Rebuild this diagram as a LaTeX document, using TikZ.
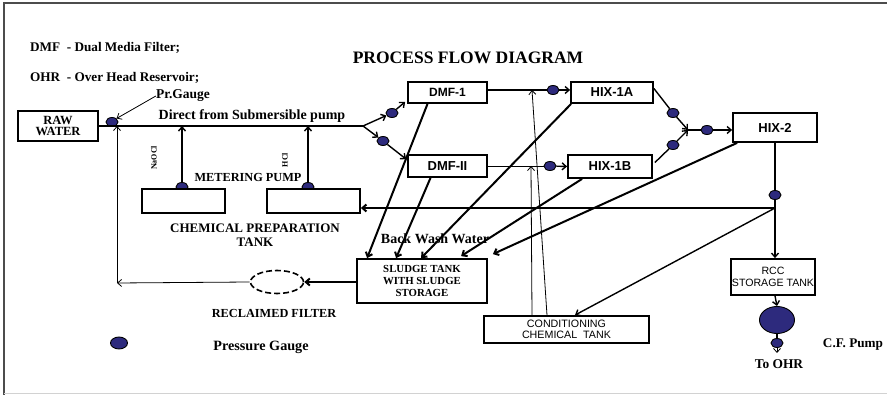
\documentclass[tikz,border=0pt]{standalone}
\usepackage{fontspec}
\setmainfont{Liberation Serif}
\setsansfont{Liberation Sans}
\usetikzlibrary{arrows.meta,shapes.geometric,calc}
\definecolor{gaugecol}{RGB}{45,42,125}
\begin{document}
\begin{tikzpicture}[x=1pt,y=-1pt,
  >={Straight Barb[length=4pt,width=7pt]},
  box/.style={draw,line width=1.8pt,fill=white,inner sep=0pt,align=center,font=\bfseries\fontsize{10.8}{11.5}\selectfont},
  sbox/.style={box,font=\sffamily\bfseries\fontsize{13}{14}\selectfont},
  gauge/.style={ellipse,draw,line width=0.9pt,fill=gaugecol,minimum width=12pt,minimum height=9pt,inner sep=0pt},
  lbl/.style={inner sep=0pt,font=\bfseries\fontsize{13}{14}\selectfont},
  heavy/.style={line width=2pt},
  medium/.style={line width=1.4pt},
  light/.style={line width=0.8pt}]
\useasboundingbox (0,0) rectangle (887,395);
% frame
\draw[gray!60!black,line width=1.5pt] (4,395) -- (4,3) -- (887,3);
\draw[gray!35,line width=0.8pt] (4,393) -- (887,393);
% legend and title
\node[lbl,anchor=west,font=\bfseries\fontsize{13.2}{14}\selectfont] (leg1) at (30,48) {DMF\ \ - Dual Media Filter;};
\node[lbl,anchor=west,font=\bfseries\fontsize{13.2}{14}\selectfont] (leg2) at (30,78) {OHR\ \ - Over Head Reservoir;};
\node[lbl,font=\bfseries\fontsize{17.5}{18}\selectfont] (title) at (468,58) {PROCESS FLOW DIAGRAM};
% gauges drawn first (boxes cover their lower halves)
\node[gauge] (g0) at (112,122) {};
\node[gauge] (gm1) at (182,187) {};
\node[gauge] (gm2) at (308,187) {};
\node[gauge] (gd1) at (392,113) {};
\node[gauge] (gd2) at (383,141) {};
\node[gauge] (g1a) at (553,90) {};
\node[gauge] (g1b) at (550,166) {};
\node[gauge] (ga) at (673,113) {};
\node[gauge] (gb) at (673,145) {};
\node[gauge] (gc) at (707,130) {};
\node[gauge] (gh2) at (775,195) {};
\node[gauge,minimum width=35pt,minimum height=27pt] (pump) at (777,320) {};
\node[gauge] (gp) at (777,343) {};
\node[gauge,minimum width=17pt,minimum height=12pt] (legg) at (119,343) {};
% boxes
\node[box,minimum width=80pt,minimum height=30pt,font=\bfseries\fontsize{12.5}{11}\selectfont] (raw) at (58,126) {RAW\\WATER};
\node[sbox,minimum width=79pt,minimum height=21pt,font=\sffamily\bfseries\fontsize{12}{13}\selectfont] (dmf1) at (447.5,92.5) {DMF-1};
\node[sbox,minimum width=79pt,minimum height=22pt] (dmf2) at (447.5,166) {DMF-II};
\node[sbox,minimum width=82pt,minimum height=21pt] (hix1a) at (612,92.5) {HIX-1A};
\node[sbox,minimum width=84pt,minimum height=23pt] (hix1b) at (610,166.5) {HIX-1B};
\node[sbox,minimum width=84pt,minimum height=29pt] (hix2) at (775,127.5) {HIX-2};
\node[box,minimum width=83pt,minimum height=24pt] (cp1) at (183.5,201) {};
\node[box,minimum width=93pt,minimum height=24pt] (cp2) at (313.5,201) {};
\node[box,minimum width=130pt,minimum height=44pt,font=\bfseries\fontsize{10.8}{12}\selectfont] (sludge) at (422,281) {SLUDGE TANK\\WITH SLUDGE\\STORAGE};
\node[box,minimum width=165pt,minimum height=27pt,font=\sffamily\fontsize{10.7}{11}\selectfont] (cond) at (566.5,329.5) {CONDITIONING\\CHEMICAL\ \ TANK};
\node[box,minimum width=84pt,minimum height=36pt,font=\sffamily\fontsize{10.6}{12}\selectfont] (rcc) at (773,277) {RCC\\STORAGE TANK};
\node[ellipse,draw,dash pattern=on 6pt off 3pt,line width=1.6pt,minimum width=53pt,minimum height=23pt,inner sep=0pt] (recl) at (277,282) {};
% labels
\node[lbl,font=\bfseries\fontsize{13.5}{14}\selectfont] (prg) at (183,96) {Pr.Gauge};
\node[lbl,font=\bfseries\fontsize{14}{15}\selectfont] (direct) at (252,116) {Direct from Submersible pump};
\node[lbl,font=\bfseries\fontsize{12.3}{13}\selectfont] (meter) at (248,177) {METERING PUMP};
\node[lbl,align=center,font=\bfseries\fontsize{13}{14.5}\selectfont] (cptext) at (255,235) {CHEMICAL PREPARATION\\TANK};
\node[lbl,font=\bfseries\fontsize{8}{9}\selectfont] (naocl) at (154,158) {\rotatebox{90}{NaOCl}};
\node[lbl,font=\bfseries\fontsize{8}{9}\selectfont] (hcl) at (285,160) {\rotatebox{90}{HCl}};
\node[lbl,font=\bfseries\fontsize{14}{15}\selectfont] (bww) at (435,239) {Back Wash Water};
\node[lbl,font=\bfseries\fontsize{12.3}{13}\selectfont] (rtext) at (274,313) {RECLAIMED FILTER};
\node[lbl,font=\bfseries\fontsize{14.2}{15}\selectfont] (pgtext) at (261,347) {Pressure Gauge};
\node[lbl,font=\bfseries\fontsize{13.2}{14}\selectfont] (cfp) at (853,345) {C.F. Pump};
\node[lbl,font=\bfseries\fontsize{13.4}{14}\selectfont] (ohr) at (779,364) {To OHR};
% junction coordinates
\coordinate (split) at (363,126);
\coordinate (m1) at (182,126);
\coordinate (m2) at (308,126);
\coordinate (lc) at (117,283);
\coordinate (lt) at (117,126);
\coordinate (j) at (775,208);
\coordinate (jc) at (688,130);
\coordinate (c1) at (531,166);
\coordinate (c2) at (532,90);
\coordinate (ohrend) at (777,353);
% main raw water line
\draw[heavy] (raw.east) -- (split);
\draw[->,light] (prg.west) -- (g0.north east);
\draw[->,medium] (split) -- (gd1);
\draw[->,medium] (gd1) -- ($(dmf1.south west)+(-2,-2)$);
\draw[->,medium] (split) -- (gd2);
\draw[->,medium] (gd2) -- ($(dmf2.north west)+(-1,5)$);
% metering pumps
\draw[->,medium] (gm1) -- (m1);
\draw[->,medium] (gm2) -- (m2);
% reclaimed loop
\draw[->,heavy] (sludge.west |- recl) -- (recl.east);
\draw[->,light] (recl.west) -- (lc);
\draw[->,light] (lc) -- (lt);
% DMF to HIX
\draw[medium] (dmf1.east |- g1a) -- (g1a);
\draw[->,medium] (g1a) -- (hix1a.west |- g1a);
\draw[light] (dmf2.east) -- (g1b);
\draw[->,medium] (g1b) -- (hix1b.west);
\draw[medium] ($(hix1a.east)+(0,-4)$) -- (ga);
\draw[->,medium] (ga) -- (jc);
\draw[medium] ($(hix1b.east)+(2,-4)$) -- (gb);
\draw[->,medium] (gb) -- (jc);
\draw[medium] (jc) -- (gc);
\draw[->,medium] (gc) -- (hix2.west |- gc);
% HIX-2 down
\draw[heavy] (hix2.south) -- (gh2);
\draw[heavy] (gh2) -- (j);
\draw[->,medium] (j) -- (rcc.north -| j);
\draw[->,heavy] (j) -- (cp2.east |- j);
\draw[->,medium] (j) -- ($(cond.north)+(8.5,0)$);
\draw[->,medium] ($(rcc.south)+(2,0)$) -- (pump.north);
\draw[medium] (pump.south) -- (gp);
\draw[->,light] (gp) -- (ohrend);
% back wash to sludge tank
\draw[->,heavy] ($(dmf1.south)+(-20,0)$) -- ($(sludge.north west)+(11,0)$);
\draw[->,heavy] ($(dmf2.south)+(-17,0)$) -- ($(sludge.north west)+(40,0)$);
\draw[->,heavy] ($(hix1a.south west)+(1,0)$) -- ($(sludge.north west)+(65,0)$);
\draw[->,heavy] ($(hix1b.south west)+(15,0)$) -- ($(sludge.north west)+(105,-2)$);
\draw[->,heavy] ($(hix2.south west)+(5,0)$) -- ($(sludge.north east)+(5,-4)$);
% conditioning chemical lines
\draw[->,light] ($(cond.north)+(-34.5,0)$) -- (c1);
\draw[->,light] ($(cond.north)+(-19.5,0)$) -- (c2);
\end{tikzpicture}
\end{document}
